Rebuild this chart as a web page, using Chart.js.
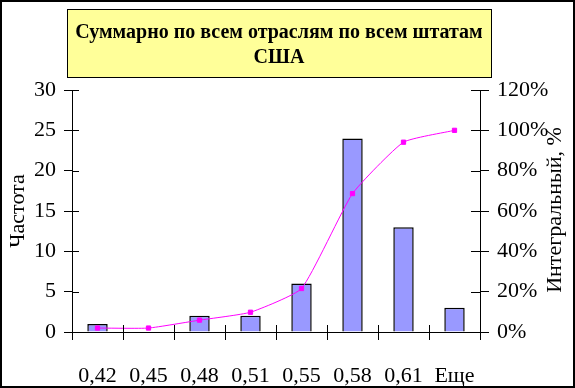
<!DOCTYPE html>
<html>
<head>
<meta charset="utf-8">
<script src="https://cdn.jsdelivr.net/npm/chart.js@4/dist/chart.umd.min.js"></script>
<style>
  body { margin: 0; background: #fff; }
  canvas { display: block; }
</style>
</head>
<body>
<canvas id="chart" width="575" height="388"></canvas>
<script>
// Data
const categories = ['0,42', '0,45', '0,48', '0,51', '0,55', '0,58', '0,61', 'Еще'];
const frequency = [1, 0, 2, 2, 6, 24, 13, 3];
const cumulative = [0.0196, 0.0196, 0.0588, 0.098, 0.2157, 0.6863, 0.9412, 1.0];
const titleLines = ['Суммарно по всем отраслям по всем штатам', 'США'];
const leftTitle = 'Частота';
const rightTitle = 'Интегральный, %';

const FONT = "'Liberation Serif', 'Times New Roman', serif";
Chart.defaults.font.family = FONT;
Chart.defaults.color = '#000';

// Title box, axis titles, cross ticks and outer frame
const decorPlugin = {
    id: 'decor',
    afterDraw(chart) {
        const ctx = chart.ctx;
        const area = chart.chartArea;
        ctx.save();

        // title box
        ctx.fillStyle = '#FFFF99';
        ctx.fillRect(67, 9, 424, 68);
        ctx.strokeStyle = '#000';
        ctx.lineWidth = 1;
        ctx.strokeRect(67.5, 9.5, 424, 68);
        ctx.fillStyle = '#000';
        ctx.font = 'bold 20px ' + FONT;
        ctx.textAlign = 'center';
        ctx.textBaseline = 'middle';
        ctx.fillText(titleLines[0], 279, 33);
        ctx.fillText(titleLines[1], 279, 58);

        // axis titles
        ctx.font = '22px ' + FONT;
        ctx.save();
        ctx.translate(18, 211);
        ctx.rotate(-Math.PI / 2);
        ctx.fillText(leftTitle, 0, 0);
        ctx.restore();
        ctx.save();
        ctx.translate(555, 210);
        ctx.rotate(-Math.PI / 2);
        ctx.fillText(rightTitle, 0, 0);
        ctx.restore();

        // inner halves of the tick marks
        ctx.beginPath();
        const y = chart.scales.y;
        y.ticks.forEach(t => {
            const py = Math.round(y.getPixelForValue(t.value)) + 0.5;
            ctx.moveTo(area.left, py);
            ctx.lineTo(area.left + 7, py);
        });
        const y1 = chart.scales.y1;
        y1.ticks.forEach(t => {
            const py = Math.round(y1.getPixelForValue(t.value)) + 0.5;
            ctx.moveTo(area.right, py);
            ctx.lineTo(area.right - 9, py);
        });
        const x = chart.scales.x;
        const step = x.getPixelForTick(1) - x.getPixelForTick(0);
        for (let i = 0; i <= categories.length; i++) {
            const px = Math.round(x.getPixelForTick(0) - step / 2 + i * step) + 0.5;
            ctx.moveTo(px, area.bottom);
            ctx.lineTo(px, area.bottom - 7);
        }
        ctx.stroke();

        // outer frame
        ctx.lineWidth = 2;
        ctx.strokeRect(1, 1, 573, 386);
        ctx.restore();
    }
};

new Chart(document.getElementById('chart'), {
    type: 'bar',
    data: {
        labels: categories,
        datasets: [{
            type: 'line',
            label: rightTitle,
            data: cumulative,
            yAxisID: 'y1',
            borderColor: '#FF00FF',
            backgroundColor: '#FF00FF',
            borderWidth: 1,
            pointStyle: 'rect',
            pointRadius: 3,
            tension: 0.15,
            order: 0
        }, {
            label: leftTitle,
            data: frequency,
            yAxisID: 'y',
            backgroundColor: '#9999FF',
            borderColor: '#000',
            borderWidth: 1.5,
            categoryPercentage: 1,
            barPercentage: 0.4,
            order: 1
        }]
    },
    options: {
        responsive: false,
        animation: false,
        devicePixelRatio: 1,
        layout: {
            padding: { top: 90, left: 0, right: 0, bottom: 0 }
        },
        plugins: {
            legend: { display: false },
            tooltip: { enabled: false }
        },
        scales: {
            x: {
                offset: true,
                ticks: {
                    color: '#000',
                    font: { size: 22 },
                    padding: 23,
                    maxRotation: 0,
                    autoSkip: false
                },
                grid: {
                    offset: true,
                    drawOnChartArea: false,
                    tickLength: 8,
                    color: '#000'
                },
                border: { color: '#000' },
                afterFit: s => { s.height = 56; }
            },
            y: {
                position: 'left',
                min: 0,
                max: 30,
                ticks: {
                    stepSize: 5,
                    color: '#000',
                    font: { size: 22 },
                    padding: 8
                },
                grid: {
                    drawOnChartArea: false,
                    tickLength: 8,
                    color: '#000'
                },
                border: { color: '#000' },
                afterFit: s => { s.width = 72; }
            },
            y1: {
                position: 'right',
                min: 0,
                max: 1.2,
                ticks: {
                    stepSize: 0.2,
                    color: '#000',
                    font: { size: 22 },
                    padding: 8,
                    callback: v => Math.round(v * 100) + '%'
                },
                grid: {
                    drawOnChartArea: false,
                    tickLength: 9,
                    color: '#000'
                },
                border: { color: '#000' },
                afterFit: s => { s.width = 95; }
            }
        }
    },
    plugins: [decorPlugin]
});
</script>
</body>
</html>
